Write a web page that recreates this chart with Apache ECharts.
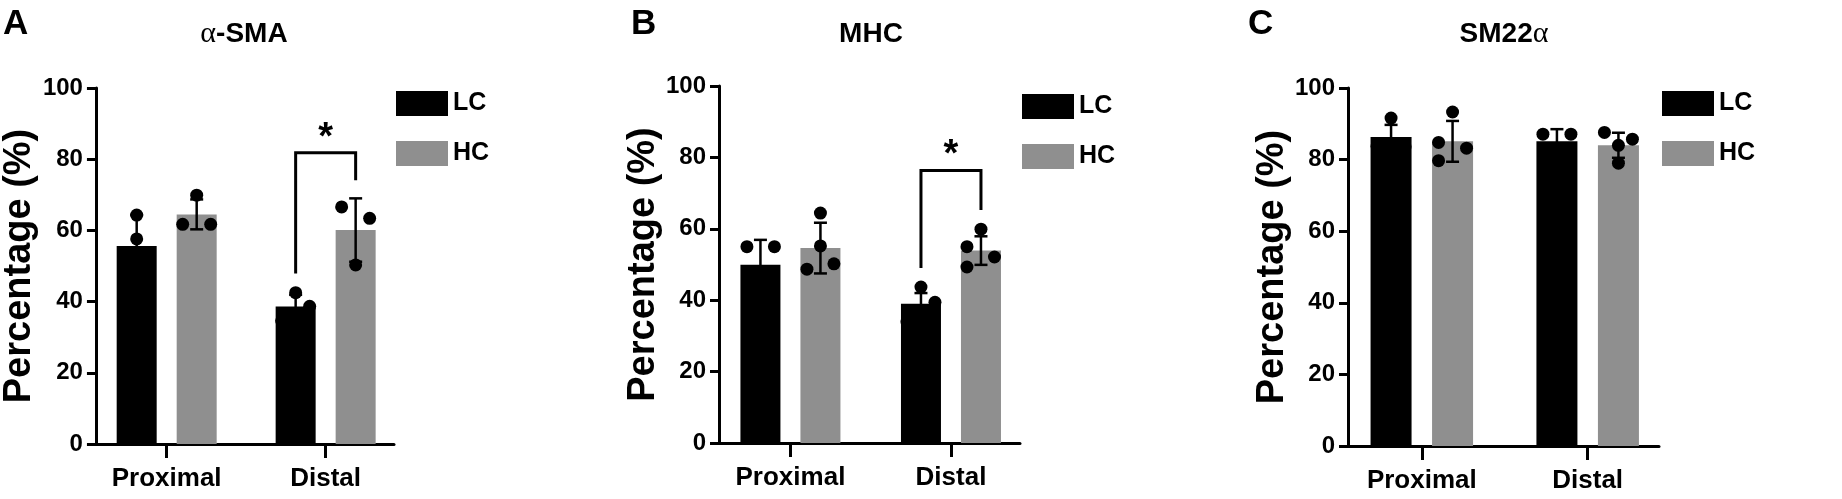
<!DOCTYPE html>
<html>
<head>
<meta charset="utf-8">
<script src="https://cdn.jsdelivr.net/npm/echarts@6/dist/echarts.min.js"></script>
<style>
  html, body { margin: 0; padding: 0; background: #fff; }
  #chart { width: 1842px; height: 499px; }
</style>
</head>
<body>
<div id="chart"></div>
<script>
  const categories = ['Proximal', 'Distal']
  const groups = ['LC', 'HC']
  const titles = ['α-SMA', 'MHC', 'SM22α']
  const letters = ['A', 'B', 'C']

  // α-SMA
  const smaLcMean = [55.6, 38.6]
  const smaLcSd = [8.7, 3.3]
  const smaHcMean = [64.5, 60.1]
  const smaHcSd = [4.2, 8.9]
  const smaLcDots = [[64.3, 57.6, 45.0], [42.5, 38.7, 34.6]]
  const smaHcDots = [[69.9, 61.7, 61.7], [66.6, 63.4, 50.3]]
  const smaBracket = [1, 47.9, 74.1, 81.8, 87.7] // category, left end, right end, top, star

  // MHC
  const mhcLcMean = [49.9, 39.0]
  const mhcLcSd = [7.0, 3.0]
  const mhcHcMean = [54.6, 53.9]
  const mhcHcSd = [7.1, 4.0]
  const mhcLcDots = [[55.0, 55.0, 39.7], [43.7, 39.4, 33.9]]
  const mhcHcDots = [[64.4, 55.2, 48.7, 50.2], [59.9, 55.0, 52.1, 49.3]]
  const mhcBracket = [1, 49.0, 65.3, 76.3, 82.6]

  // SM22α
  const smLcMean = [86.3, 85.1]
  const smLcSd = [3.4, 3.4]
  const smHcMean = [85.1, 84.0]
  const smHcSd = [5.7, 3.5]
  const smLcDots = [[91.6, 83.7, 83.6], [87.1, 87.1, 81.1]]
  const smHcDots = [[93.3, 84.8, 83.2, 79.7], [87.6, 85.7, 84.0, 79.0]]

  const font = '"Liberation Sans", Arial, sans-serif'
  const black = '#000000'
  const gray = '#8f8f8f'

  // horizontal scatter of the dots, px
  const lcJitter = [[[0, 0, 0], [0, 14, -14]], [[-13.5, 14, 0], [0, 14, -14]], [[0, -14, 14], [-14, 14, 0]]]
  const hcJitter = [[[0, -14, 14], [-14, 14, 0]], [[0, 0, -13.5, 13.5], [0, -14, 13.5, -14]], [[0, -14, 14, -14], [-14, 14, 0, 0]]]

  const panels = [
    { lcMean: smaLcMean, lcSd: smaLcSd, hcMean: smaHcMean, hcSd: smaHcSd, lcDots: smaLcDots, hcDots: smaHcDots, bracket: smaBracket },
    { lcMean: mhcLcMean, lcSd: mhcLcSd, hcMean: mhcHcMean, hcSd: mhcHcSd, lcDots: mhcLcDots, hcDots: mhcHcDots, bracket: mhcBracket },
    { lcMean: smLcMean, lcSd: smLcSd, hcMean: smHcMean, hcSd: smHcSd, lcDots: smLcDots, hcDots: smHcDots, bracket: null },
  ]

  const layout = [
    { left: 91, top: 88, width: 303, height: 356, barWidth: 40, legendLeft: 396, legendTop: 91, titleX: 244, letterX: 3 },
    { left: 719, top: 86, width: 301, height: 357, barWidth: 40, legendLeft: 1022, legendTop: 94, titleX: 871, letterX: 631 },
    { left: 1348, top: 88, width: 311, height: 358, barWidth: 41, legendLeft: 1662, legendTop: 91, titleX: 1504, letterX: 1248 },
  ]

  const axisLineStyle = { color: black, width: 3 }

  function errorBars(offset) {
    return (params, api) => {
      const x = api.value(0)
      const mean = api.value(1)
      const sd = api.value(2)
      const hi = api.coord([x, mean + sd])
      const lo = api.coord([x, mean - sd])
      const cx = hi[0] + offset
      const half = 6.5
      const style = { stroke: black, lineWidth: 2.5, fill: null }
      return {
        type: 'group',
        children: [
          { type: 'line', shape: { x1: cx, y1: hi[1], x2: cx, y2: lo[1] }, style },
          { type: 'line', shape: { x1: cx - half, y1: hi[1], x2: cx + half, y2: hi[1] }, style },
          { type: 'line', shape: { x1: cx - half, y1: lo[1], x2: cx + half, y2: lo[1] }, style },
        ],
      }
    }
  }

  function bracketItem(offset) {
    return (params, api) => {
      const x = api.value(0)
      const l = api.coord([x, api.value(1)])
      const r = api.coord([x, api.value(2)])
      const t = api.coord([x, api.value(3)])
      const s = api.coord([x, api.value(4)])
      const lx = l[0] - offset
      const rx = r[0] + offset
      return {
        type: 'group',
        children: [
          {
            type: 'polyline',
            shape: { points: [[lx, l[1]], [lx, t[1]], [rx, t[1]], [rx, r[1]]] },
            style: { stroke: black, lineWidth: 3, fill: null },
          },
          {
            type: 'text',
            x: (lx + rx) / 2,
            y: s[1] + 7,
            style: { text: '*', font: 'bold 38px ' + font, fill: black, align: 'center', verticalAlign: 'middle' },
          },
        ],
      }
    }
  }

  function dotData(dots, jitter, offset) {
    const out = []
    dots.forEach((vals, i) => {
      vals.forEach((v, k) => out.push({ value: [i, v], symbolOffset: [offset + jitter[i][k], 0] }))
    })
    return out
  }

  const grid = []
  const xAxis = []
  const yAxis = []
  const legend = []
  const series = []
  const graphic = []

  panels.forEach((p, i) => {
    const L = layout[i]
    const off = L.barWidth * 0.75
    grid.push({ left: L.left, top: L.top, width: L.width, height: L.height })
    xAxis.push({
      type: 'value',
      gridIndex: i,
      min: -0.445,
      max: 1.43,
      splitLine: { show: false },
      axisLine: { show: true, onZero: false, lineStyle: axisLineStyle },
      axisTick: { show: true, customValues: [0, 1], length: 14, lineStyle: axisLineStyle },
      axisLabel: {
        customValues: [0, 1],
        formatter: (v) => categories[Math.round(v)],
        margin: 22,
        color: black,
        fontSize: 26,
        fontWeight: 'bold',
        fontFamily: font,
      },
    })
    yAxis.push({
      type: 'value',
      gridIndex: i,
      min: 0,
      max: 100,
      interval: 20,
      name: 'Percentage (%)',
      nameLocation: 'middle',
      nameGap: 52,
      nameTextStyle: { color: black, fontSize: 38, fontWeight: 'bold', fontFamily: font },
      splitLine: { show: false },
      axisLine: { show: true, onZero: false, lineStyle: axisLineStyle },
      axisTick: { show: true, length: 9, lineStyle: axisLineStyle },
      axisLabel: { margin: 13, color: black, fontSize: 24, fontWeight: 'bold', fontFamily: font },
    })
    legend.push({
      left: L.legendLeft,
      top: L.legendTop,
      orient: 'vertical',
      data: groups,
      icon: 'rect',
      itemWidth: 52,
      itemHeight: 25,
      itemGap: 25,
      padding: 0,
      selectedMode: false,
      textStyle: { color: black, fontSize: 25, fontWeight: 'bold', fontFamily: font },
    })

    const barBase = { type: 'bar', xAxisIndex: i, yAxisIndex: i, barWidth: L.barWidth, barGap: '50%', z: 1 }
    series.push({ ...barBase, name: 'LC', data: p.lcMean.map((v, k) => [k, v]), itemStyle: { color: black } })
    series.push({ ...barBase, name: 'HC', data: p.hcMean.map((v, k) => [k, v]), itemStyle: { color: gray } })

    series.push({
      type: 'custom', name: 'LC sd', xAxisIndex: i, yAxisIndex: i, z: 3,
      data: p.lcMean.map((v, k) => [k, v, p.lcSd[k]]), renderItem: errorBars(-off),
    })
    series.push({
      type: 'custom', name: 'HC sd', xAxisIndex: i, yAxisIndex: i, z: 3,
      data: p.hcMean.map((v, k) => [k, v, p.hcSd[k]]), renderItem: errorBars(off),
    })

    const dotBase = {
      type: 'scatter', xAxisIndex: i, yAxisIndex: i, symbol: 'circle', symbolSize: 13, z: 4,
      itemStyle: { color: black, opacity: 1 },
    }
    series.push({ ...dotBase, name: 'LC points', data: dotData(p.lcDots, lcJitter[i], -off) })
    series.push({ ...dotBase, name: 'HC points', data: dotData(p.hcDots, hcJitter[i], off) })

    if (p.bracket) {
      series.push({
        type: 'custom', name: 'significance', xAxisIndex: i, yAxisIndex: i, z: 3,
        data: [p.bracket], renderItem: bracketItem(off),
      })
    }

    graphic.push({
      type: 'text',
      x: L.titleX,
      y: 34,
      style: {
        text: titles[i].replace('α', '{a|α}'),
        font: 'bold 28px ' + font,
        fill: black,
        align: 'center',
        verticalAlign: 'middle',
        rich: { a: { fontFamily: '"Liberation Serif", serif', fontWeight: 'normal', fontSize: 30, fill: black } },
      },
    })
    graphic.push({
      type: 'text',
      x: L.letterX,
      y: 24,
      style: { text: letters[i], font: 'bold 35px ' + font, fill: black, align: 'left', verticalAlign: 'middle' },
    })
  })

  const chart = echarts.init(document.getElementById('chart'))
  chart.setOption({
    animation: false,
    backgroundColor: '#ffffff',
    grid,
    xAxis,
    yAxis,
    legend,
    series,
    graphic,
  })
</script>
</body>
</html>
